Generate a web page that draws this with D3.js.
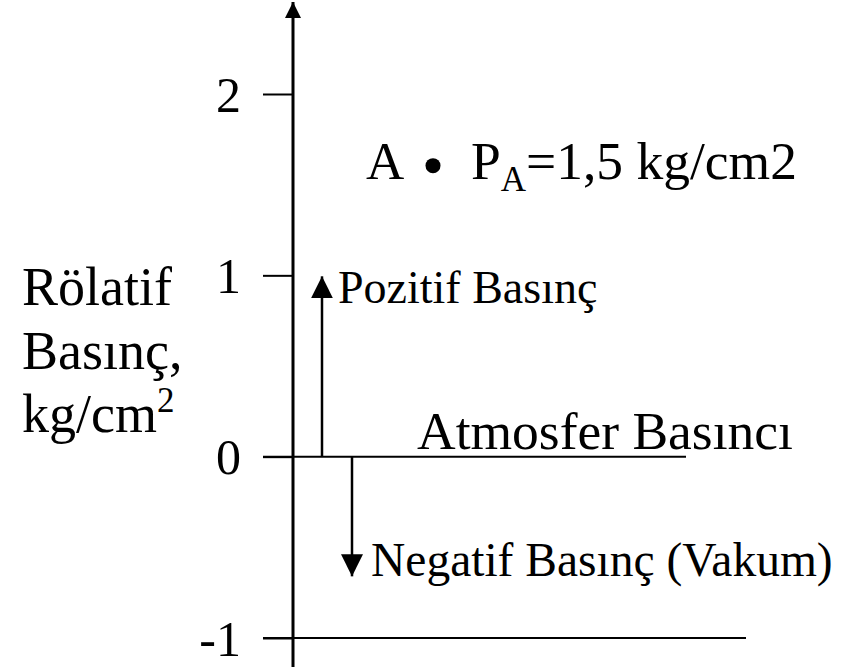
<!DOCTYPE html>
<html>
<head>
<meta charset="utf-8">
<script src="https://cdn.jsdelivr.net/npm/d3@7"></script>
<style>
  html, body { margin: 0; padding: 0; background: #fff; }
  svg { display: block; }
  text { font-family: "Liberation Serif", "Times New Roman", serif; fill: #000; }
</style>
</head>
<body>
<svg id="chart" width="848" height="667"></svg>
<script>
// ---- data ----
const yDomain = [-1, 2];
const yTickValues = [-1, 0, 1, 2];
const yTickLabels = ["-1", "0", "1", "2"];
const referenceLevels = [0, -1];              // Atmosfer Basıncı (0), absolute zero (-1)
const positiveArrow = [0, 1];                 // Pozitif Basınç
const negativeArrow = [0, -0.66];             // Negatif Basınç (Vakum)
const pointA = { name: "A", value: 1.5, label: "P", sub: "A", rest: "=1,5 kg/cm2" };
const yTitleLines = ["Rölatif", "Basınç,", "kg/cm"];
const labelPositive = "Pozitif Basınç";
const labelNegative = "Negatif Basınç (Vakum)";
const labelAtm = "Atmosfer Basıncı";

// ---- layout ----
const FONT = "'Liberation Serif', 'Times New Roman', serif";
const svg = d3.select("#chart");
const axisX = 293;
const y = d3.scaleLinear().domain(yDomain).range([638, 94]);

// arrow markers
const defs = svg.append("defs");
defs.append("marker").attr("id", "triAxis")
  .attr("viewBox", "0 0 10 10").attr("refX", 10).attr("refY", 5)
  .attr("markerUnits", "userSpaceOnUse")
  .attr("markerWidth", 17).attr("markerHeight", 16).attr("orient", "auto")
  .append("path").attr("d", "M0,0 L10,5 L0,10 Z").attr("fill", "#000");
defs.append("marker").attr("id", "triSmall")
  .attr("viewBox", "0 0 10 10").attr("refX", 10).attr("refY", 5)
  .attr("markerUnits", "userSpaceOnUse")
  .attr("markerWidth", 22).attr("markerHeight", 22).attr("orient", "auto")
  .append("path").attr("d", "M0,0 L10,5 L0,10 Z").attr("fill", "#000");

// axis with ticks
const axis = d3.axisLeft(y)
  .tickValues(yTickValues)
  .tickFormat((d, i) => yTickLabels[i])
  .tickSize(30).tickPadding(22);
const gAxis = svg.append("g").attr("transform", `translate(${axisX},0)`).call(axis);
gAxis.select(".domain").remove();
gAxis.selectAll(".tick line").attr("stroke", "#000").attr("stroke-width", 2);
gAxis.selectAll(".tick text").attr("font-size", 50).attr("fill", "#000")
  .attr("dy", "0.34em")
  .style("font-family", FONT);

// vertical axis line with arrow
svg.append("line")
  .attr("x1", axisX).attr("x2", axisX)
  .attr("y1", 667).attr("y2", 2)
  .attr("stroke", "#000").attr("stroke-width", 3)
  .attr("marker-end", "url(#triAxis)");

// reference horizontal lines
const levelEnds = { "0": 686, "-1": 746 };
svg.selectAll("line.level").data(referenceLevels).enter().append("line")
  .attr("class", "level")
  .attr("x1", axisX - 30).attr("x2", d => levelEnds[String(d)])
  .attr("y1", d => y(d)).attr("y2", d => y(d))
  .attr("stroke", "#000").attr("stroke-width", 2);

// pressure arrows
svg.append("line")
  .attr("x1", 322).attr("x2", 322)
  .attr("y1", y(positiveArrow[0])).attr("y2", y(positiveArrow[1]) + 1)
  .attr("stroke", "#000").attr("stroke-width", 2.5)
  .attr("marker-end", "url(#triSmall)");
svg.append("line")
  .attr("x1", 352).attr("x2", 352)
  .attr("y1", y(negativeArrow[0])).attr("y2", y(negativeArrow[1]))
  .attr("stroke", "#000").attr("stroke-width", 2.5)
  .attr("marker-end", "url(#triSmall)");

// labels
svg.append("text").attr("x", 338).attr("y", y(positiveArrow[1]) + 28)
  .attr("font-size", 46).style("font-family", FONT).text(labelPositive);
svg.append("text").attr("x", 371).attr("y", y(negativeArrow[1]) + 0)
  .attr("font-size", 47.5).style("font-family", FONT).text(labelNegative);
svg.append("text").attr("x", 417).attr("y", y(0) - 8)
  .attr("font-size", 53.5).style("font-family", FONT).text(labelAtm);

// point A
const aBase = y(pointA.value) - 6;
svg.append("text").attr("x", 366).attr("y", aBase).attr("font-size", 53)
  .style("font-family", FONT).text(pointA.name);
svg.append("circle").attr("cx", 433).attr("cy", aBase - 13).attr("r", 7.5).attr("fill", "#000");
const tA = svg.append("text").attr("x", 471).attr("y", aBase).attr("font-size", 53.5)
  .style("font-family", FONT);
tA.append("tspan").text(pointA.label);
tA.append("tspan").attr("dy", 12).attr("font-size", 35).text(pointA.sub);
tA.append("tspan").attr("dy", -12).text(pointA.rest);

// y title
const tTitle = svg.append("text").attr("font-size", 54).style("font-family", FONT);
yTitleLines.forEach((s, i) => {
  tTitle.append("tspan").attr("x", 22).attr("y", 305 + i * 63.5).text(s);
});
tTitle.append("tspan").attr("dy", -20).attr("font-size", 35).text("2");
</script>
</body>
</html>
